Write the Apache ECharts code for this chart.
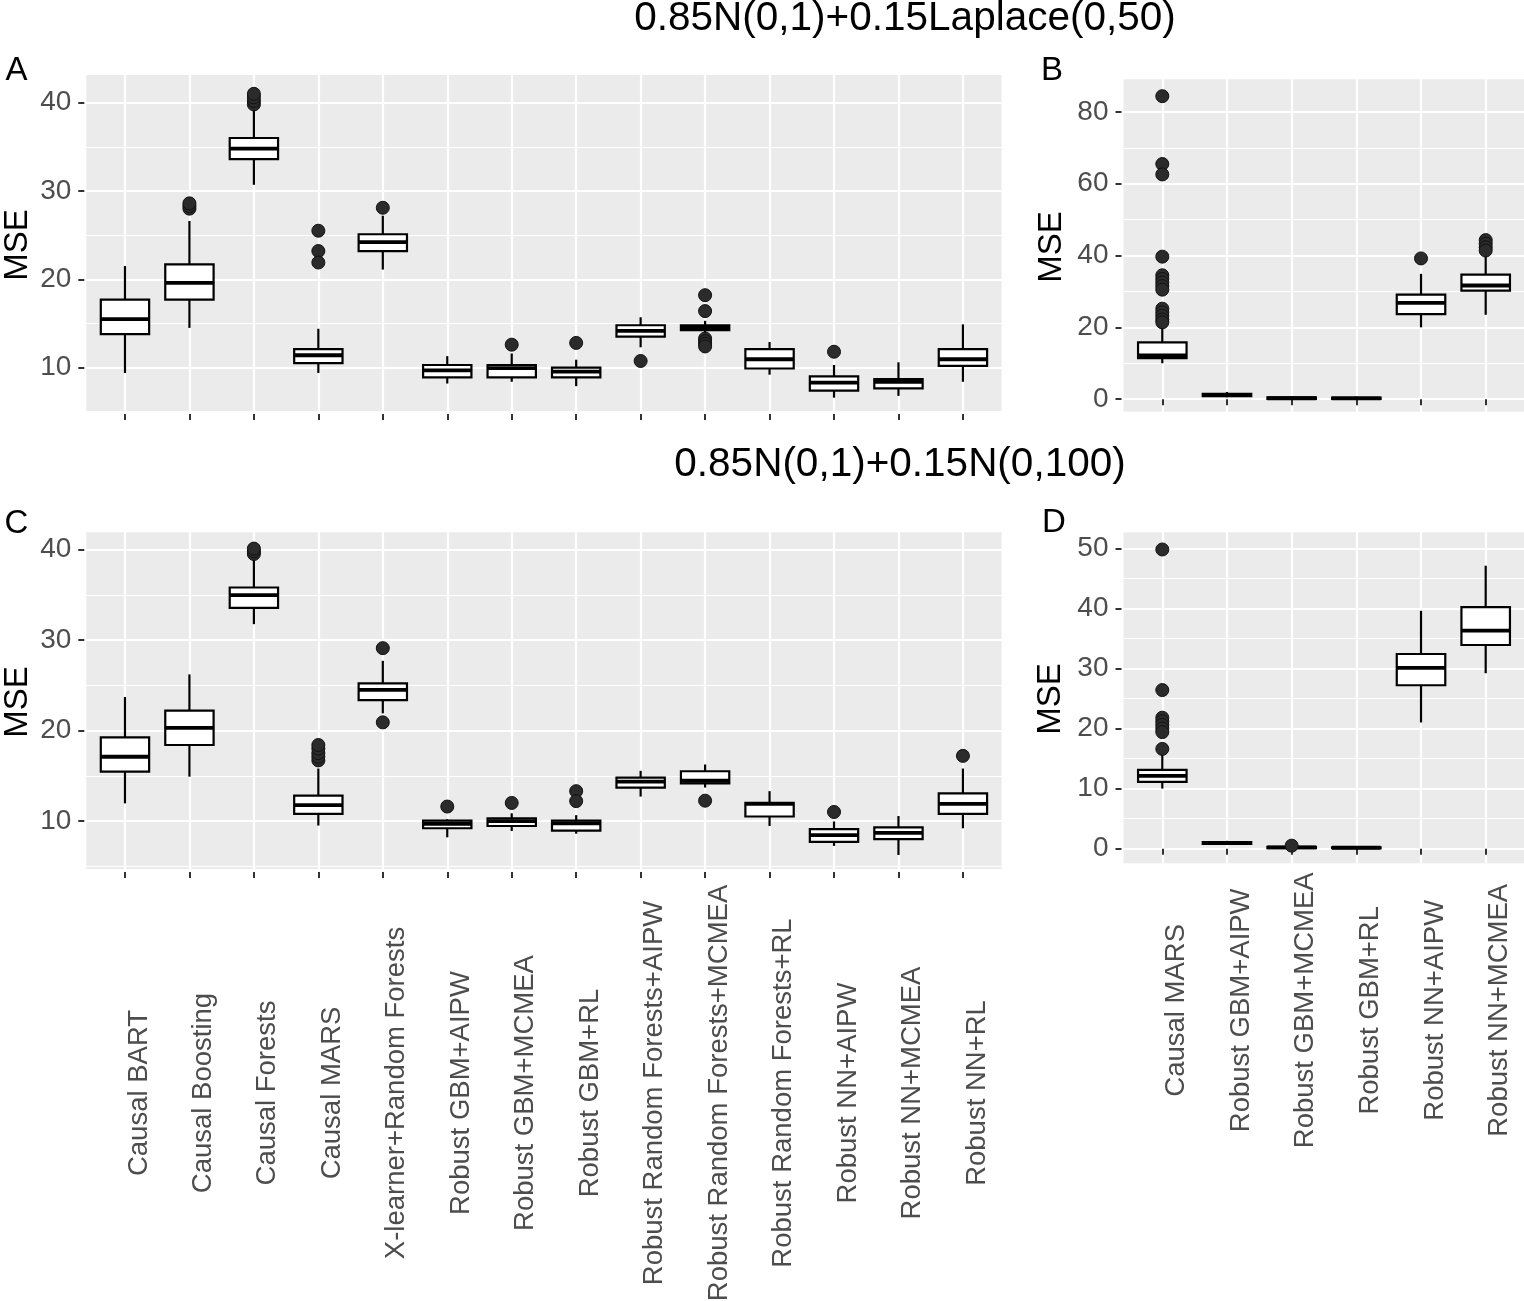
<!DOCTYPE html>
<html>
<head>
<meta charset="utf-8">
<script src="https://cdn.jsdelivr.net/npm/echarts@6/dist/echarts.min.js"></script>
<style>html,body{margin:0;padding:0;background:#fff}#c{width:1524px;height:1301px}</style>
</head>
<body>
<div id="c"></div>
<script>
// ---------- data ----------
const namesWide = ['Causal BART','Causal Boosting','Causal Forests','Causal MARS','X-learner+Random Forests',
  'Robust GBM+AIPW','Robust GBM+MCMEA','Robust GBM+RL','Robust Random Forests+AIPW','Robust Random Forests+MCMEA',
  'Robust Random Forests+RL','Robust NN+AIPW','Robust NN+MCMEA','Robust NN+RL'];
const namesNarrow = ['Causal MARS','Robust GBM+AIPW','Robust GBM+MCMEA','Robust GBM+RL','Robust NN+AIPW','Robust NN+MCMEA'];

// [min, Q1, median, Q3, max]
const statsA = [
  [9.4, 13.8, 15.5, 17.7, 21.5],
  [14.5, 17.7, 19.6, 21.7, 26.6],
  [30.7, 33.6, 34.8, 36.0, 39.4],
  [9.4, 10.5, 11.4, 12.1, 14.4],
  [21.1, 23.2, 24.2, 25.1, 27.2],
  [8.2, 8.9, 9.7, 10.3, 11.3],
  [8.4, 8.9, 9.95, 10.3, 11.6],
  [7.9, 8.9, 9.55, 10.0, 10.9],
  [12.3, 13.5, 14.15, 14.8, 15.7],
  [13.8, 14.25, 14.55, 14.8, 15.3],
  [9.2, 9.9, 10.95, 12.1, 12.9],
  [6.6, 7.4, 8.3, 9.0, 10.3],
  [6.8, 7.65, 8.4, 8.7, 10.6],
  [8.4, 10.2, 10.95, 12.1, 14.9]
];
const outliersA = [
  [2, 28.0], [2, 28.3], [2, 28.6],
  [3, 39.8], [3, 40.2], [3, 40.6], [3, 41.0],
  [4, 25.5], [4, 23.2], [4, 21.9],
  [5, 28.1],
  [7, 12.6],
  [8, 12.8],
  [9, 10.75],
  [10, 18.2], [10, 16.4], [10, 13.3], [10, 13.0], [10, 12.7], [10, 12.4],
  [12, 11.8]
];

const statsB = [
  [10.0, 11.4, 12.2, 15.8, 20.5],
  [0.5, 0.8, 1.1, 1.5, 2.0],
  [0.0, 0.05, 0.25, 0.5, 0.8],
  [0.0, 0.05, 0.2, 0.45, 0.7],
  [20.0, 23.7, 26.8, 29.1, 34.9],
  [23.5, 30.25, 31.65, 34.7, 40.1]
];
const outliersB = [
  [1, 84.4], [1, 65.5], [1, 62.6], [1, 39.7],
  [1, 34.5], [1, 33.5], [1, 32.5], [1, 31.5], [1, 30.5],
  [1, 25.2], [1, 24.2], [1, 23.2], [1, 22.2], [1, 21.4],
  [5, 39.2],
  [6, 44.3], [6, 43.3], [6, 42.3], [6, 41.4]
];

const statsC = [
  [11.95, 15.45, 17.1, 19.25, 23.7],
  [14.9, 18.4, 20.3, 22.2, 26.2],
  [31.75, 33.55, 34.95, 35.8, 38.9],
  [9.5, 10.8, 11.75, 12.8, 15.8],
  [21.9, 23.35, 24.5, 25.2, 27.7],
  [8.2, 9.2, 9.7, 10.05, 10.2],
  [8.9, 9.45, 10.0, 10.3, 10.85],
  [8.6, 8.95, 9.75, 10.05, 10.65],
  [12.7, 13.7, 14.35, 14.8, 15.55],
  [13.7, 14.15, 14.45, 15.5, 16.25],
  [9.45, 10.5, 11.9, 12.0, 13.3],
  [7.25, 7.7, 8.45, 9.1, 9.95],
  [6.25, 8.0, 8.7, 9.3, 10.55],
  [9.2, 10.8, 11.9, 13.05, 15.8]
];
const outliersC = [
  [3, 39.5], [3, 39.8], [3, 40.1],
  [4, 16.7], [4, 17.1], [4, 17.5], [4, 18.0], [4, 18.4],
  [5, 29.1], [5, 20.9],
  [6, 11.6],
  [7, 12.0],
  [8, 13.3], [8, 12.2],
  [10, 12.25],
  [12, 11.0],
  [14, 17.2]
];

const statsD = [
  [10.0, 11.1, 12.1, 13.1, 15.7],
  [0.65, 0.8, 0.95, 1.1, 1.3],
  [0.0, 0.1, 0.2, 0.3, 0.45],
  [0.02, 0.08, 0.15, 0.22, 0.35],
  [21.0, 27.2, 30.1, 32.4, 39.6],
  [29.2, 33.9, 36.3, 40.2, 47.1]
];
const outliersD = [
  [1, 49.8], [1, 26.4], [1, 21.8], [1, 21.2], [1, 20.6], [1, 20.0], [1, 19.4], [1, 16.6],
  [3, 0.5]
];

const ticksA = [10, 20, 30, 40], minorA = [5, 15, 25, 35];
const ticksB = [0, 20, 40, 60, 80], minorB = [10, 30, 50, 70];
const ticksC = [10, 20, 30, 40], minorC = [5, 15, 25, 35];
const ticksD = [0, 10, 20, 30, 40, 50], minorD = [5, 15, 25, 35, 45];

const title1 = '0.85N(0,1)+0.15Laplace(0,50)';
const title2 = '0.85N(0,1)+0.15N(0,100)';

// ---------- chart ----------
const FONT = "'Liberation Sans', Arial, sans-serif";
const panels = [
  {grid: {left: 86.3, top: 75, width: 915.3, height: 336}, names: namesWide, stats: statsA, out: outliersA,
   ymin: 5.09, ymax: 43.13, major: ticksA, minor: minorA, labels: false, margin: 0},
  {grid: {left: 1123.5, top: 79.3, width: 401, height: 332.4}, names: namesNarrow, stats: statsB, out: outliersB,
   ymin: -3.5, ymax: 89.1, major: ticksB, minor: minorB, labels: false, margin: 0},
  {grid: {left: 86.3, top: 532.3, width: 915.3, height: 336.7}, names: namesWide, stats: statsC, out: outliersC,
   ymin: 4.7, ymax: 41.9, major: ticksC, minor: minorC, labels: true, margin: 221},
  {grid: {left: 1123.5, top: 532.3, width: 401, height: 331}, names: namesNarrow, stats: statsD, out: outliersD,
   ymin: -2.44, ymax: 52.66, major: ticksD, minor: minorD, labels: true, margin: 144}
];

const grids = [], xAxes = [], yAxes = [], series = [];
panels.forEach((p, gi) => {
  grids.push(Object.assign({show: true, backgroundColor: '#EBEBEB', borderWidth: 0, containLabel: false, outerBoundsMode: 'none'}, p.grid));
  const vals = p.names.map((_, i) => i + 1);
  xAxes.push({
    type: 'value', gridIndex: gi, min: 0.4, max: p.names.length + 0.6, offset: 3,
    axisLine: {show: false},
    axisTick: {show: true, customValues: vals, length: 6, lineStyle: {color: '#333333', width: 2}},
    axisLabel: {show: p.labels, customValues: vals, formatter: v => p.names[Math.round(v) - 1] || '',
      rotate: 90, align: 'center', verticalAlign: 'top', margin: p.margin,
      color: '#4D4D4D', fontSize: 27.5, fontFamily: FONT},
    splitLine: {show: true, lineStyle: {color: '#FFFFFF', width: 2.2}}
  });
  const yMajorIndex = yAxes.length;
  yAxes.push({
    type: 'value', gridIndex: gi, min: p.ymin, max: p.ymax, offset: 2, position: 'left',
    axisLine: {show: false},
    axisTick: {show: true, customValues: p.major, length: 6, lineStyle: {color: '#333333', width: 2}},
    axisLabel: {show: true, customValues: p.major, margin: 13, color: '#4D4D4D', fontSize: 28, fontFamily: FONT},
    splitLine: {show: true, lineStyle: {color: '#FFFFFF', width: 2.2}}
  });
  yAxes.push({
    type: 'value', gridIndex: gi, min: p.ymin, max: p.ymax, position: 'right',
    axisLine: {show: false},
    axisTick: {show: false, customValues: p.minor},
    axisLabel: {show: false, customValues: p.minor},
    splitLine: {show: true, lineStyle: {color: '#FFFFFF', width: 1.1}}
  });
  series.push({
    type: 'custom', xAxisIndex: gi, yAxisIndex: yMajorIndex,
    data: p.stats.map((s, i) => [i + 1].concat(s)),
    encode: {x: 0, y: [1, 2, 3, 4, 5]},
    renderItem: function (params, api) {
      const x = api.value(0);
      const lo = api.coord([x, api.value(1)]);
      const q1 = api.coord([x, api.value(2)]);
      const md = api.coord([x, api.value(3)]);
      const q3 = api.coord([x, api.value(4)]);
      const hi = api.coord([x, api.value(5)]);
      const w = api.size([0.75, 0])[0];
      const ls = {stroke: '#000', lineWidth: 2.2};
      return {type: 'group', children: [
        {type: 'line', shape: {x1: lo[0], y1: lo[1], x2: q1[0], y2: q1[1]}, style: ls},
        {type: 'line', shape: {x1: q3[0], y1: q3[1], x2: hi[0], y2: hi[1]}, style: ls},
        {type: 'rect', shape: {x: md[0] - w / 2, y: q3[1], width: w, height: q1[1] - q3[1]},
          style: {fill: '#FFFFFF', stroke: '#000', lineWidth: 2.2}},
        {type: 'line', shape: {x1: md[0] - w / 2, y1: md[1], x2: md[0] + w / 2, y2: md[1]},
          style: {stroke: '#000', lineWidth: 3.8}}
      ]};
    }
  });
  series.push({
    type: 'scatter', xAxisIndex: gi, yAxisIndex: yMajorIndex,
    data: p.out, symbol: 'circle', symbolSize: 13,
    itemStyle: {color: '#2B2B2B', borderColor: '#111', borderWidth: 1, opacity: 1},
    z: 5
  });
});

function txt(text, x, y, size, rot) {
  return {type: 'text', x: x, y: y, rotation: rot || 0, z: 100,
    style: {text: text, fontSize: size, fontFamily: FONT, fill: '#000',
      align: 'center', verticalAlign: 'middle', textAlign: 'center', textVerticalAlign: 'middle'}};
}

const chart = echarts.init(document.getElementById('c'), null, {renderer: 'canvas'});
chart.setOption({
  animation: false,
  backgroundColor: '#FFFFFF',
  grid: grids, xAxis: xAxes, yAxis: yAxes, series: series,
  graphic: [
    txt(title1, 905, 19, 40.5),
    txt(title2, 900, 465, 40.5),
    txt('A', 16.5, 71, 33), txt('B', 1052, 71, 33),
    txt('C', 16.5, 524, 33), txt('D', 1054, 523, 33),
    txt('MSE', 17.5, 245, 33, Math.PI / 2), txt('MSE', 1051.5, 247, 33, Math.PI / 2),
    txt('MSE', 17.5, 702, 33, Math.PI / 2), txt('MSE', 1051, 699, 33, Math.PI / 2)
  ]
});
</script>
</body>
</html>
